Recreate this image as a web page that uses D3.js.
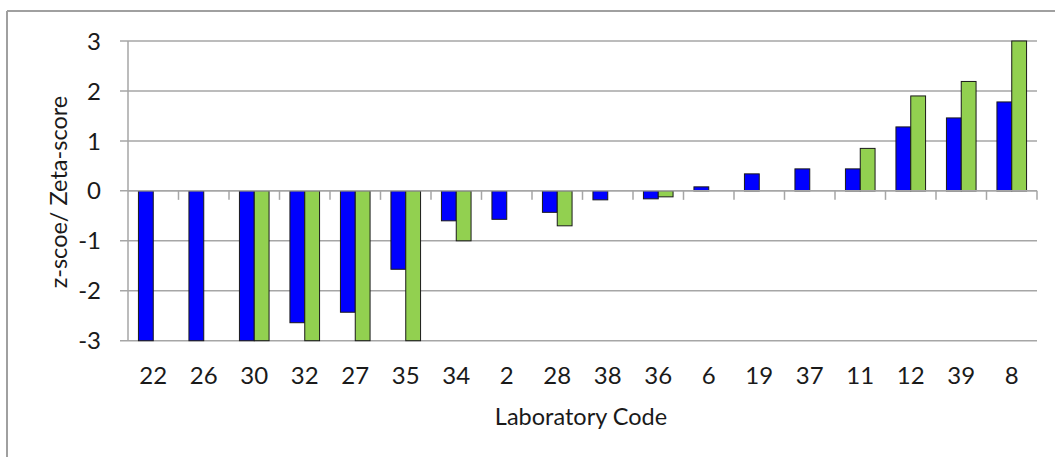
<!DOCTYPE html>
<html>
<head>
<meta charset="utf-8">
<script src="https://cdn.jsdelivr.net/npm/d3@7"></script>
<style>
  html, body { margin: 0; padding: 0; background: #fff; }
  svg { display: block; }
  text { font-family: Lato, "Open Sans", sans-serif; fill: #1a1a1a; }
</style>
</head>
<body>
<svg id="chart" width="1055" height="457"></svg>
<script>
const categories = ["22","26","30","32","27","35","34","2","28","38","36","6","19","37","11","12","39","8"];
const zScores    = [-3, -3, -3, -2.64, -2.43, -1.57, -0.60, -0.57, -0.43, -0.18, -0.16, 0.08, 0.34, 0.44, 0.44, 1.28, 1.46, 1.78];
const zetaScores = [null, null, -3, -3, -3, -3, -1.0, null, -0.70, null, -0.12, null, null, null, 0.85, 1.90, 2.19, 3];
const yTicks = [-3, -2, -1, 0, 1, 2, 3];
const seriesNames = ["z", "zeta"];
const seriesColors = ["#0000FF", "#92D050"];

const svg = d3.select("#chart");
const W = 1055, H = 457;

// outer frame (top and left edges visible)
svg.append("line").attr("x1", 7).attr("x2", W).attr("y1", 11).attr("y2", 11)
  .attr("stroke", "#A0A0A0").attr("stroke-width", 2);
svg.append("line").attr("x1", 7).attr("x2", 7).attr("y1", 11).attr("y2", H)
  .attr("stroke", "#A0A0A0").attr("stroke-width", 2);

const plotL = 128, plotR = 1037, plotT = 41, plotB = 340.7;

const x0 = d3.scaleBand().domain(categories).range([plotL, plotR]).paddingInner(0).paddingOuter(0);
const x1 = d3.scaleBand().domain(seriesNames).range([0, x0.bandwidth()]).paddingInner(0).paddingOuter(0.705);
const y = d3.scaleLinear().domain([-3, 3]).range([plotB, plotT]);

// gridlines
svg.append("g").selectAll("line").data(yTicks).join("line")
  .attr("x1", plotL - 8).attr("x2", plotR)
  .attr("y1", d => y(d)).attr("y2", d => y(d))
  .attr("stroke", "#A6A6A6").attr("stroke-width", 1.5);

// y axis line
svg.append("line").attr("x1", plotL).attr("x2", plotL).attr("y1", y(3)).attr("y2", y(-3))
  .attr("stroke", "#A6A6A6").attr("stroke-width", 1.5);

// y tick labels
svg.append("g").selectAll("text").data(yTicks).join("text")
  .attr("x", 101).attr("y", d => y(d))
  .attr("dy", "0.36em")
  .attr("text-anchor", "end")
  .attr("font-size", 24)
  .text(d => d);

// bars
const rows = categories.map((c, i) => ({ cat: c, vals: [zScores[i], zetaScores[i]] }));
const groups = svg.append("g").selectAll("g").data(rows).join("g")
  .attr("transform", d => `translate(${x0(d.cat)},0)`);
groups.selectAll("rect")
  .data(d => d.vals.map((v, j) => ({ s: seriesNames[j], v, j })).filter(e => e.v !== null))
  .join("rect")
  .attr("x", e => x1(e.s))
  .attr("width", x1.bandwidth())
  .attr("y", e => y(Math.max(0, e.v)))
  .attr("height", e => Math.abs(y(e.v) - y(0)))
  .attr("fill", e => seriesColors[e.j])
  .attr("stroke", "#1a1a1a").attr("stroke-width", 1);

// x axis line at zero with ticks at band boundaries
svg.append("line").attr("x1", plotL).attr("x2", plotR).attr("y1", y(0)).attr("y2", y(0))
  .attr("stroke", "#A6A6A6").attr("stroke-width", 1.5);
const boundaries = categories.map(c => x0(c) + x0.bandwidth());
svg.append("g").selectAll("line").data(boundaries).join("line")
  .attr("x1", d => d).attr("x2", d => d)
  .attr("y1", y(0)).attr("y2", y(0) + 9)
  .attr("stroke", "#A6A6A6").attr("stroke-width", 1.5);

// x labels
svg.append("g").selectAll("text").data(categories).join("text")
  .attr("x", d => x0(d) + x0.bandwidth() / 2)
  .attr("y", 384)
  .attr("text-anchor", "middle")
  .attr("font-size", 24)
  .text(d => d);

// axis titles
svg.append("text").attr("x", 581).attr("y", 425).attr("text-anchor", "middle")
  .attr("font-size", 23.5).text("Laboratory Code");
svg.append("text")
  .attr("transform", "translate(67,192) rotate(-90)")
  .attr("text-anchor", "middle")
  .attr("font-size", 23.5)
  .text("z-scoe/ Zeta-score");
</script>
</body>
</html>
